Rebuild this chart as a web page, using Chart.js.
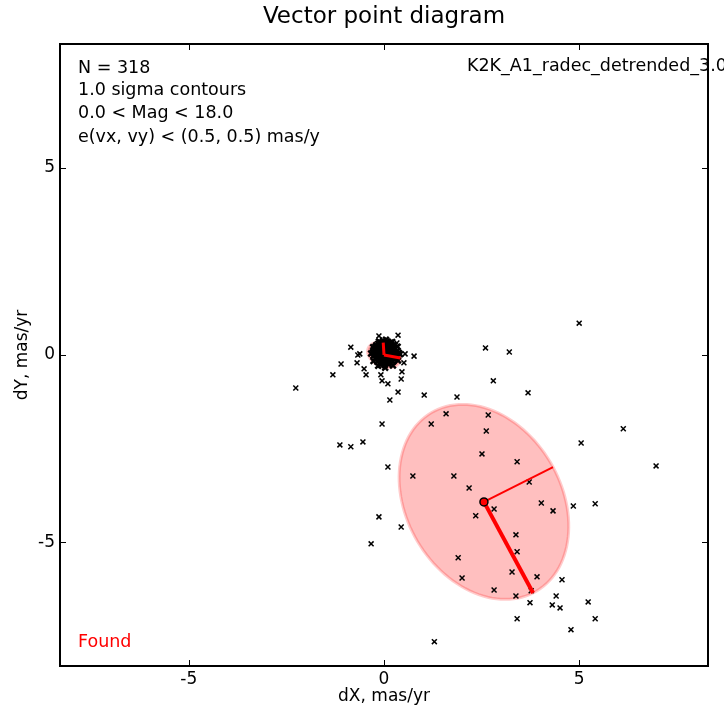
<!DOCTYPE html>
<html>
<head>
<meta charset="utf-8">
<title>Vector point diagram</title>
<script src="https://cdn.jsdelivr.net/npm/chart.js@4.4.1/dist/chart.umd.min.js"></script>
<style>
  body { margin: 0; background: #fff; }
  canvas { display: block; }
</style>
</head>
<body>
<canvas id="vpd" width="724" height="713"></canvas>
<script>
// proper motions (mas/yr) of the stars spread over the field
var fieldDX = [5.00, 2.60, 3.21, -2.26, -1.31, -1.10, -0.85, -0.67, -0.62, -0.69, -0.51, -0.46, -0.08, -0.05,
  0.10, 0.36, 0.15, 1.03, 1.87, 2.80, 3.69, -0.13, 0.36, 0.33, 0.54, 0.77, 0.51, 0.46, 0.44,
  -0.05, 1.59, 1.21, 2.67, 2.62, 5.05, 6.13, 6.97, 2.51, 0.10, 0.74, 1.79, 3.41, 2.18, 3.72,
  2.82, 4.03, 4.33, 4.85, 5.41, 2.35, -0.13, 0.44, -0.33, -1.13, -0.85, -0.54, 3.38, 3.41,
  1.90, 2.00, 3.28, 3.92, 4.56, 2.82, 3.38, 3.77, 4.41, 3.74, 4.31, 4.51, 5.23, 5.41, 3.41,
  4.79, 1.29];
var fieldDY = [0.85, 0.19, 0.08, -0.88, -0.53, -0.24, 0.21, 0.00, 0.03, -0.21, -0.37, -0.53, -0.53, -0.69,
  -0.77, -0.99, -1.20, -1.07, -1.12, -0.69, -1.01, 0.51, 0.53, 0.32, 0.03, -0.03, -0.21, -0.45, -0.64,
  -1.84, -1.57, -1.84, -1.60, -2.03, -2.35, -1.97, -2.96, -2.64, -2.99, -3.23, -3.23, -2.85, -3.55, -3.39,
  -4.11, -3.95, -4.16, -4.03, -3.97, -4.29, -4.32, -4.59, -5.04, -2.40, -2.45, -2.32, -4.80, -5.25,
  -5.41, -5.95, -5.79, -5.92, -6.00, -6.27, -6.43, -6.29, -6.43, -6.61, -6.67, -6.75, -6.59, -7.04, -7.04,
  -7.33, -7.65];

// the dense clump of field stars near zero motion
var clumpDX = [-0.02, 0.08, 0.17, -0.15, -0.05, 0.05, 0.14, 0.24, -0.22, -0.12, -0.02, 0.08, 0.18, 0.28,
  -0.26, -0.16, -0.06, 0.04, 0.14, 0.24, 0.33, -0.28, -0.18, -0.08, 0.02, 0.12, 0.22, 0.31, 0.38,
  -0.27, -0.17, -0.07, 0.03, 0.13, 0.23, 0.33, -0.23, -0.13, -0.03, 0.07, 0.17, 0.27,
  -0.17, -0.07, 0.03, 0.13, 0.23, -0.08, 0.02, 0.12,
  -0.10, 0.10, 0.00, -0.20, 0.20, -0.12, 0.08, 0.28, -0.02, 0.18, -0.18, -0.08, 0.12, 0.00, 0.20, -0.20, 0.10, -0.09,
  0.41, 0.35, 0.21, 0.05, -0.13, -0.28, -0.33, -0.27, -0.15, 0.03, 0.23, 0.36];
var clumpDY = [0.38, 0.36, 0.33, 0.30, 0.29, 0.28, 0.26, 0.27, 0.22, 0.21, 0.20, 0.19, 0.20, 0.18,
  0.14, 0.13, 0.12, 0.13, 0.11, 0.12, 0.10, 0.06, 0.05, 0.06, 0.05, 0.04, 0.05, 0.03, 0.06,
  -0.02, -0.03, -0.02, -0.03, -0.02, -0.04, -0.03, -0.10, -0.11, -0.10, -0.11, -0.10, -0.12,
  -0.18, -0.19, -0.18, -0.19, -0.18, -0.26, -0.27, -0.25,
  0.16, 0.15, 0.09, 0.09, 0.08, 0.01, 0.00, 0.00, -0.06, -0.06, -0.07, -0.14, -0.15, 0.24, 0.23, 0.26, 0.31, 0.33,
  0.02, 0.22, 0.35, 0.41, 0.36, 0.21, 0.04, -0.16, -0.29, -0.34, -0.28, -0.15];

// 1-sigma contours: centre, end of major axis, end of minor axis
var clumpCentre = [0.00, 0.00];
var clumpMajor = [0.42, -0.08];
var clumpMinor = [-0.02, 0.33];
var groupCentre = [2.56, -3.92];
var groupMajor = [3.82, -6.35];
var groupMinor = [4.33, -2.99];

var axisTicks = [-5, 0, 5];
var infoLines = ['N = 318', '1.0 sigma contours', '0.0 < Mag < 18.0', 'e(vx, vy) < (0.5, 0.5) mas/y'];
var fileLabel = 'K2K_A1_radec_detrended_3.0';
var foundLabel = 'Found';

var FONT = '"DejaVu Sans", sans-serif';

function toPoints(xs, ys) {
  return xs.map(function (x, i) { return { x: x, y: ys[i] }; });
}

function ellipsePath(chart, c, a, b) {
  var sx = chart.scales.x, sy = chart.scales.y, ctx = chart.ctx;
  var ax = a[0] - c[0], ay = a[1] - c[1], bx = b[0] - c[0], by = b[1] - c[1];
  ctx.beginPath();
  for (var i = 0; i <= 120; i++) {
    var t = i / 120 * Math.PI * 2;
    var px = sx.getPixelForValue(c[0] + ax * Math.cos(t) + bx * Math.sin(t));
    var py = sy.getPixelForValue(c[1] + ay * Math.cos(t) + by * Math.sin(t));
    if (i === 0) ctx.moveTo(px, py); else ctx.lineTo(px, py);
  }
  ctx.closePath();
}

var vpdDecor = {
  id: 'vpdDecor',
  beforeDatasetsDraw: function (chart) {
    var ctx = chart.ctx, area = chart.chartArea;
    ctx.save();
    ctx.beginPath();
    ctx.rect(area.left, area.top, area.right - area.left, area.bottom - area.top);
    ctx.clip();
    [[clumpCentre, clumpMajor, clumpMinor], [groupCentre, groupMajor, groupMinor]].forEach(function (e) {
      ellipsePath(chart, e[0], e[1], e[2]);
      ctx.fillStyle = 'rgba(255, 0, 0, 0.25)';
      ctx.fill();
      ctx.strokeStyle = 'rgba(255, 0, 0, 0.2)';
      ctx.lineWidth = 3;
      ctx.stroke();
    });
    ctx.restore();
  },
  afterDraw: function (chart) {
    var ctx = chart.ctx, area = chart.chartArea;
    var sx = chart.scales.x, sy = chart.scales.y;
    ctx.save();
    // frame
    ctx.strokeStyle = '#000';
    ctx.lineWidth = 2;
    ctx.strokeRect(area.left, area.top, area.right - area.left, area.bottom - area.top);
    // inward ticks on all four sides
    ctx.lineWidth = 1;
    ctx.beginPath();
    axisTicks.forEach(function (v) {
      var px = Math.round(sx.getPixelForValue(v)) + 0.5;
      ctx.moveTo(px, area.bottom); ctx.lineTo(px, area.bottom - 6);
      ctx.moveTo(px, area.top); ctx.lineTo(px, area.top + 6);
      var py = Math.round(sy.getPixelForValue(v)) + 0.5;
      ctx.moveTo(area.left, py); ctx.lineTo(area.left + 6, py);
      ctx.moveTo(area.right, py); ctx.lineTo(area.right - 6, py);
    });
    ctx.stroke();

    // title
    ctx.fillStyle = '#000';
    ctx.textBaseline = 'middle';
    ctx.textAlign = 'center';
    ctx.font = '23px ' + FONT;
    ctx.fillText('Vector point diagram', (area.left + area.right) / 2, 17);

    // annotations
    ctx.textAlign = 'left';
    ctx.font = '17.5px ' + FONT;
    var lineY = [68, 90, 113, 137];
    infoLines.forEach(function (t, i) {
      ctx.fillText(t, area.left + 18, lineY[i]);
    });
    ctx.fillText(fileLabel, 467, 66);
    ctx.fillStyle = '#ff0000';
    ctx.fillText(foundLabel, area.left + 18, 642);
    ctx.restore();
  }
};

var tickFont = { family: FONT, size: 17 };

new Chart(document.getElementById('vpd'), {
  type: 'scatter',
  data: {
    datasets: [
      {
        label: 'group centre',
        data: [{ x: groupCentre[0], y: groupCentre[1] }],
        pointRadius: 4,
        backgroundColor: '#ff0000',
        borderColor: '#000',
        borderWidth: 1.5,
        order: -1
      },
      {
        label: 'group major',
        data: toPoints([groupCentre[0], groupMajor[0]], [groupCentre[1], groupMajor[1]]),
        showLine: true, pointRadius: 0, borderColor: '#ff0000', borderWidth: 4, order: 0
      },
      {
        label: 'group minor',
        data: toPoints([groupCentre[0], groupMinor[0]], [groupCentre[1], groupMinor[1]]),
        showLine: true, pointRadius: 0, borderColor: '#ff0000', borderWidth: 2, order: 0
      },
      {
        label: 'clump major',
        data: toPoints([clumpCentre[0], clumpMajor[0]], [clumpCentre[1], clumpMajor[1]]),
        showLine: true, pointRadius: 0, borderColor: '#ff0000', borderWidth: 3, order: 0
      },
      {
        label: 'clump minor',
        data: toPoints([clumpCentre[0], clumpMinor[0]], [clumpCentre[1], clumpMinor[1]]),
        showLine: true, pointRadius: 0, borderColor: '#ff0000', borderWidth: 3, order: 0
      },
      {
        label: 'field',
        data: toPoints(fieldDX, fieldDY),
        pointStyle: 'crossRot', pointRadius: 3.5, borderWidth: 1.5, borderColor: '#000', order: 1
      },
      {
        label: 'clump',
        data: toPoints(clumpDX, clumpDY),
        pointStyle: 'crossRot', pointRadius: 4, borderWidth: 2.4, borderColor: '#000', order: 1
      }
    ]
  },
  options: {
    responsive: false,
    animation: false,
    events: [],
    layout: { padding: { top: 44, right: 16, left: 0, bottom: 0 } },
    plugins: { legend: { display: false }, tooltip: { enabled: false } },
    scales: {
      x: {
        type: 'linear', position: 'bottom', min: -8.3, max: 8.3,
        ticks: { stepSize: 5, includeBounds: false, color: '#000', font: tickFont, padding: 3 },
        grid: { display: false, drawTicks: false },
        border: { display: false },
        title: { display: true, text: 'dX, mas/yr', color: '#000', font: tickFont, padding: { top: 0, bottom: 6 } },
        afterFit: function (s) { s.height = 47; }
      },
      y: {
        type: 'linear', position: 'left', min: -8.3, max: 8.3,
        ticks: { stepSize: 5, includeBounds: false, color: '#000', font: tickFont, padding: 5 },
        grid: { display: false, drawTicks: false },
        border: { display: false },
        title: { display: true, text: 'dY, mas/yr', color: '#000', font: tickFont, padding: { top: 12, bottom: 0 } },
        afterFit: function (s) { s.width = 60; }
      }
    }
  },
  plugins: [vpdDecor]
});
</script>
</body>
</html>
